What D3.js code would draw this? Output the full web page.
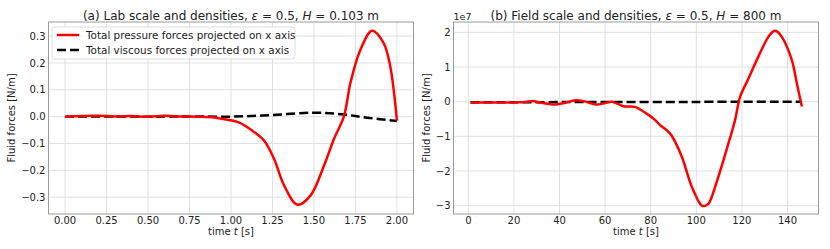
<!DOCTYPE html>
<html>
<head>
<meta charset="utf-8">
<script src="https://cdn.jsdelivr.net/npm/d3@7"></script>
<style>
  body { margin: 0; background: #fff; }
  svg { font-family: "DejaVu Sans", sans-serif; }
</style>
</head>
<body>
<svg id="chart" width="830" height="249"></svg>
<script>
// (a) lab scale
var labTime = [0, 0.1, 0.2, 0.3, 0.4, 0.5, 0.6, 0.7, 0.8, 0.9, 0.96, 1.05, 1.13, 1.2, 1.26, 1.32, 1.4, 1.48, 1.56, 1.62, 1.68, 1.72, 1.78, 1.85, 1.92, 1.96, 2.0];
var labPressure = [0, 0.002, 0.003, 0.001, 0.002, 0, 0.003, 0.001, 0.0, -0.003, -0.01, -0.022, -0.053, -0.09, -0.158, -0.256, -0.328, -0.293, -0.183, -0.084, 0.0, 0.126, 0.249, 0.32, 0.274, 0.187, -0.015];
var labViscTime = [0, 0.25, 0.5, 0.75, 1.0, 1.25, 1.5, 1.68, 1.82, 2.0];
var labViscous = [0, 0.001, 0, 0.001, 0, 0.006, 0.015, 0.008, -0.004, -0.016];
var labXTicks = [0, 0.25, 0.5, 0.75, 1.0, 1.25, 1.5, 1.75, 2.0];
var labYTicks = [-0.3, -0.2, -0.1, 0, 0.1, 0.2, 0.3];

// (b) field scale, values in units of 1e7 N/m
var fieldTime = [1, 10, 20, 25, 28, 32, 37, 42, 47, 51, 56, 60, 63, 68, 73, 79, 82, 84, 87, 89, 93.6, 98, 102.4, 104, 105.5, 109.7, 114.1, 117, 119.2, 122.9, 127.2, 131.6, 133.8, 135, 137.5, 141.9, 144.1, 146.3];
var fieldPressure = [-0.02, -0.02, -0.02, -0.01, 0.02, -0.03, -0.08, -0.04, 0.04, 0.01, -0.08, -0.04, 0.0, -0.13, -0.15, -0.38, -0.53, -0.67, -0.82, -0.96, -1.58, -2.45, -3.0, -3.0, -2.93, -2.16, -1.2, -0.53, 0.14, 0.67, 1.3, 1.87, 2.03, 2.04, 1.87, 1.2, 0.53, -0.14];
var fieldViscTime = [1, 50, 100, 146];
var fieldViscous = [-0.02, -0.01, -0.005, 0.0];
var fieldXTicks = [0, 20, 40, 60, 80, 100, 120, 140];
var fieldYTicks = [-3, -2, -1, 0, 1, 2];

var svg = d3.select('#chart');

function fmtLab(d) { return d3.format('.1f')(d).replace('-', '\u2212'); }
function fmtField(d) { return d3.format('d')(d).replace('-', '\u2212'); }

function drawPanel(opt) {
	var x = d3.scaleLinear().domain(opt.xDomain).range([opt.left, opt.right]);
	var y = d3.scaleLinear().domain(opt.yDomain).range([opt.bottom, opt.top]);
	var g = svg.append('g');

	// grid
	g.selectAll('.gx').data(opt.xTicks).enter().append('line')
		.attr('x1', function(d) { return x(d); })
		.attr('x2', function(d) { return x(d); })
		.attr('y1', opt.top).attr('y2', opt.bottom)
		.attr('stroke', '#dcdcdc').attr('stroke-width', 0.9);
	g.selectAll('.gy').data(opt.yTicks).enter().append('line')
		.attr('y1', function(d) { return y(d); })
		.attr('y2', function(d) { return y(d); })
		.attr('x1', opt.left).attr('x2', opt.right)
		.attr('stroke', '#dcdcdc').attr('stroke-width', 0.9);

	// frame
	g.append('rect')
		.attr('x', opt.left).attr('y', opt.top)
		.attr('width', opt.right - opt.left).attr('height', opt.bottom - opt.top)
		.attr('fill', 'none').attr('stroke', '#9a9a9a').attr('stroke-width', 1);

	// tick labels
	g.selectAll('.tx').data(opt.xTicks).enter().append('text')
		.attr('x', function(d) { return x(d); })
		.attr('y', 224)
		.attr('text-anchor', 'middle')
		.attr('font-size', 10).attr('fill', '#222')
		.text(opt.xFormat);
	g.selectAll('.ty').data(opt.yTicks).enter().append('text')
		.attr('x', opt.left - 3)
		.attr('y', function(d) { return y(d) + 3.6; })
		.attr('text-anchor', 'end')
		.attr('font-size', 10).attr('fill', '#222')
		.text(opt.yFormat);

	// axis labels
	var xl = g.append('text')
		.attr('x', (opt.left + opt.right) / 2).attr('y', 235)
		.attr('text-anchor', 'middle').attr('font-size', 10).attr('fill', '#222');
	xl.append('tspan').text('time ');
	xl.append('tspan').attr('font-style', 'italic').text('t');
	xl.append('tspan').text(' [s]');

	g.append('text')
		.attr('transform', 'translate(' + opt.yLabelX + ',' + ((opt.top + opt.bottom) / 2) + ') rotate(-90)')
		.attr('text-anchor', 'middle').attr('font-size', 10).attr('fill', '#222')
		.text('Fluid forces [N/m]');

	// title
	var t = g.append('text')
		.attr('x', (opt.left + opt.right) / 2).attr('y', 19.5)
		.attr('text-anchor', 'middle').attr('font-size', 12).attr('fill', '#222');
	t.append('tspan').text(opt.titleStart + ', ');
	t.append('tspan').attr('font-style', 'italic').text('\u03b5');
	t.append('tspan').text(' = 0.5, ');
	t.append('tspan').attr('font-style', 'italic').text('H');
	t.append('tspan').text(' = ' + opt.titleEnd);

	if (opt.offset) {
		g.append('text')
			.attr('x', opt.left).attr('y', 20)
			.attr('font-size', 9.5).attr('fill', '#222')
			.text(opt.offset);
	}

	var clipId = 'clip' + opt.id;
	svg.append('clipPath').attr('id', clipId).append('rect')
		.attr('x', opt.left).attr('y', opt.top)
		.attr('width', opt.right - opt.left).attr('height', opt.bottom - opt.top);

	var line = d3.line()
		.x(function(d) { return x(d[0]); })
		.y(function(d) { return y(d[1]); })
		.curve(d3.curveCatmullRom.alpha(0.5));

	g.append('path')
		.datum(d3.zip(opt.viscTime, opt.viscous))
		.attr('d', line)
		.attr('clip-path', 'url(#' + clipId + ')')
		.attr('fill', 'none').attr('stroke', '#000')
		.attr('stroke-width', 2.5).attr('stroke-dasharray', '9,4');

	g.append('path')
		.datum(d3.zip(opt.time, opt.pressure))
		.attr('d', line)
		.attr('clip-path', 'url(#' + clipId + ')')
		.attr('fill', 'none').attr('stroke', '#ff0000')
		.attr('stroke-width', 2.5).attr('stroke-linejoin', 'round');

	return g;
}

var gLab = drawPanel({
	id: 'a', left: 48.5, right: 413.5, top: 22, bottom: 214, yLabelX: 15,
	xDomain: [-0.1, 2.1], yDomain: [-0.3625, 0.3525],
	xTicks: labXTicks, yTicks: labYTicks,
	xFormat: d3.format('.2f'), yFormat: fmtLab,
	time: labTime, pressure: labPressure, viscTime: labViscTime, viscous: labViscous,
	titleStart: '(a) Lab scale and densities', titleEnd: '0.103 m'
});

drawPanel({
	id: 'b', left: 453.5, right: 818.5, top: 22, bottom: 214, yLabelX: 430,
	xDomain: [-6.5, 153.6], yDomain: [-3.24, 2.3],
	xTicks: fieldXTicks, yTicks: fieldYTicks,
	xFormat: d3.format('d'), yFormat: fmtField,
	time: fieldTime, pressure: fieldPressure, viscTime: fieldViscTime, viscous: fieldViscous,
	titleStart: '(b) Field scale and densities', titleEnd: '800 m', offset: '1e7'
});

// legend
var legendItems = [
	{ label: 'Total pressure forces projected on x axis', color: '#ff0000', dash: null },
	{ label: 'Total viscous forces projected on x axis', color: '#000', dash: '9,4' }
];
var legend = gLab.append('g');
legend.append('rect')
	.attr('x', 52).attr('y', 27).attr('width', 243).attr('height', 32).attr('rx', 3)
	.attr('fill', '#fff').attr('fill-opacity', 0.85)
	.attr('stroke', '#d5d5d5').attr('stroke-width', 0.8);
var li = legend.selectAll('.li').data(legendItems).enter().append('g')
	.attr('transform', function(d, i) { return 'translate(0,' + (35 + i * 15) + ')'; });
li.append('line')
	.attr('x1', 57).attr('x2', 79).attr('y1', 0).attr('y2', 0)
	.attr('stroke', function(d) { return d.color; })
	.attr('stroke-width', 2.5)
	.attr('stroke-dasharray', function(d) { return d.dash; });
li.append('text')
	.attr('x', 86).attr('y', 3.7)
	.attr('font-size', 10.4).attr('fill', '#222')
	.text(function(d) { return d.label; });
</script>
</body>
</html>
